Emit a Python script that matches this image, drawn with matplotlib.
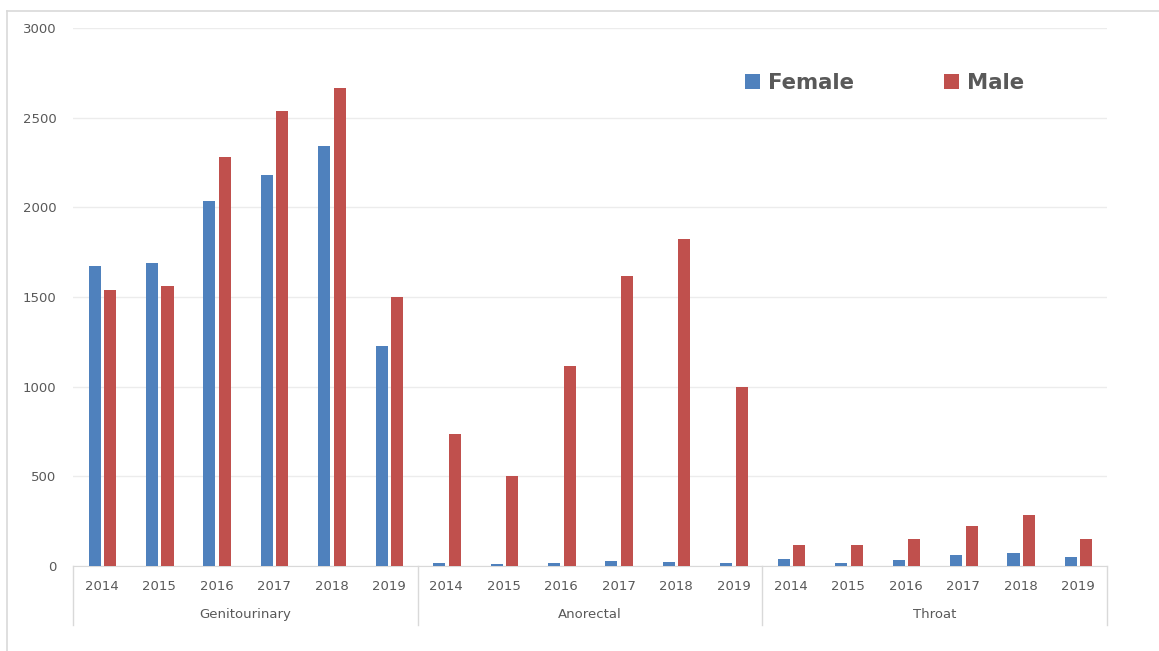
import matplotlib
matplotlib.use("Agg")
import matplotlib.pyplot as plt
from matplotlib.lines import Line2D
from matplotlib.transforms import blended_transform_factory
import numpy as np

plt.rcParams['font.family'] = ['DejaVu Sans']

groups = ["Genitourinary", "Anorectal", "Throat"]
years = ["2014", "2015", "2016", "2017", "2018", "2019"]
female = [1675, 1690, 2035, 2180, 2340, 1225,
          19, 9, 19, 30, 20, 19,
          41, 19, 35, 61, 71, 52]
male = [1540, 1560, 2280, 2537, 2665, 1500,
        737, 500, 1115, 1617, 1822, 998,
        115, 115, 152, 223, 283, 152]

blue = "#4f81bd"
red = "#c0504d"
txt = "#595959"

fig = plt.figure(figsize=(11.59, 6.51), dpi=100)
ax = fig.add_axes([0.063, 0.1306, 0.892, 0.8264])

x = np.arange(len(female))
w = 0.21
ax.bar(x - 0.125, female, w, color=blue, label="Female", zorder=3)
ax.bar(x + 0.145, male, w, color=red, label="Male", zorder=3)

ax.set_xlim(-0.5, len(female) - 0.5)
ax.set_ylim(0, 3000)
ax.set_yticks(range(0, 3001, 500))
ax.set_yticklabels([str(v) for v in range(0, 3001, 500)], fontsize=9.5, color=txt)
ax.yaxis.grid(True, color="#ececec", linewidth=1, zorder=0)
for s in ["top", "right", "left"]:
    ax.spines[s].set_visible(False)
ax.spines["bottom"].set_color("#d9d9d9")
ax.tick_params(axis="y", length=0, pad=12)
ax.tick_params(axis="x", length=0, pad=10)
ax.set_xticks(x)
ax.set_xticklabels(years * len(groups), fontsize=9.5, color=txt)

# group labels and separators under the axis
trans = blended_transform_factory(ax.transData, ax.transAxes)
n = len(years)
for i, g in enumerate(groups):
    ax.text(i * n + (n - 1) / 2, -0.09, g, transform=trans, ha="center",
            va="center", fontsize=9.5, color=txt)
for i in range(len(groups) + 1):
    ax.add_line(Line2D([i * n - 0.5, i * n - 0.5], [0, -0.11], transform=trans,
                       color="#d9d9d9", linewidth=1, clip_on=False))

leg = ax.legend(loc="upper left", bbox_to_anchor=(0.6315, 0.952), ncol=2,
                frameon=False, fontsize=15.3, handlelength=0.7, handleheight=0.7,
                columnspacing=4.2, handletextpad=0.4)
for t in leg.get_texts():
    t.set_color(txt)
    t.set_fontweight("bold")

# outer frame (top and left edges visible)
fig.add_artist(Line2D([7 / 1159, 1], [1 - 11 / 651, 1 - 11 / 651],
                      transform=fig.transFigure, color="#d9d9d9", linewidth=1.2))
fig.add_artist(Line2D([7 / 1159, 7 / 1159], [0, 1 - 11 / 651],
                      transform=fig.transFigure, color="#d9d9d9", linewidth=1.2))

fig.savefig("out.png", dpi=100, facecolor="white")
